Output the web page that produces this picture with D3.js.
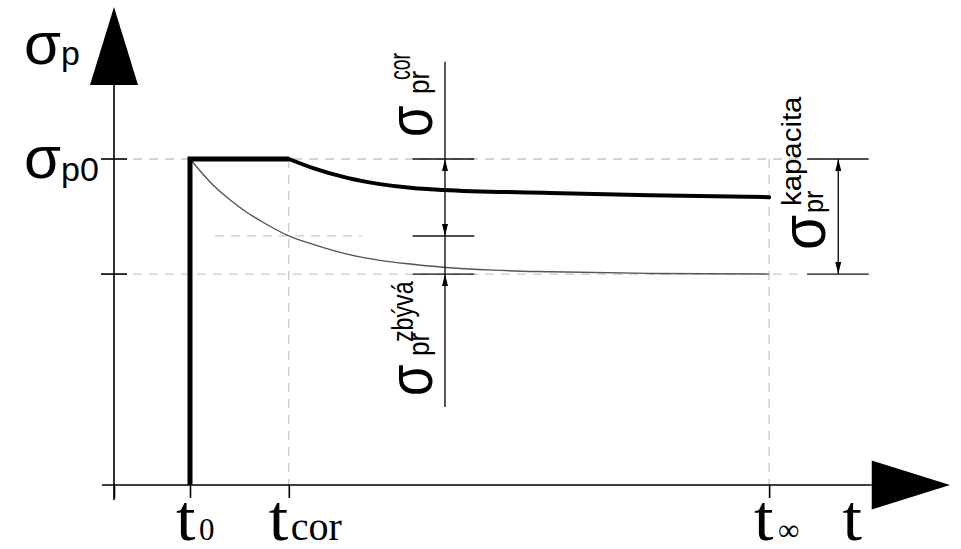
<!DOCTYPE html>
<html>
<head>
<meta charset="utf-8">
<script src="https://cdn.jsdelivr.net/npm/d3@7"></script>
<style>
  html, body { margin: 0; padding: 0; background: #fff; }
  svg { display: block; }
</style>
</head>
<body>
<svg id="chart" width="961" height="549"></svg>
<script>
// ---- data -------------------------------------------------------------
// time marks on the t axis (axis origin, t0, tcor, t∞)
const timeMarks = [0, 1.0, 2.3, 8.62];
const timeSubs  = ["0", "cor", "∞"];
// stress levels relative to σp0
const stressTicks = [1.0, 0.647];
const stressCorLevel = 0.764;          // value of the thin curve at tcor
// thick curve: σp after tcor (with corrosion)
const thickT = [2.30, 2.62, 3.07, 3.50, 3.93, 4.33, 5.74, 7.05, 8.62];
const thickS = [1.000, 0.972, 0.942, 0.923, 0.911, 0.905, 0.896, 0.889, 0.883];
// thin curve: σp from t0 without corrosion
const thinT = [1.00, 1.30, 1.53, 1.75, 1.96, 2.30, 2.62, 3.07, 3.50, 3.93, 4.33, 5.00, 5.74, 7.05, 8.62];
const thinS = [1.000, 0.921, 0.874, 0.836, 0.806, 0.764, 0.738, 0.708, 0.689, 0.677, 0.668, 0.659, 0.654, 0.649, 0.647];
// dimension lines (time position, extent, tick span)
const dimMidT = 4.355, dimMidTop = 1.298, dimMidBottom = 0.239, dimMidTicks = [3.93, 4.74];
const dimRightT = 9.53, dimRightTicks = [9.12, 9.93];

// ---- scales -----------------------------------------------------------
const x = d3.scaleLinear().domain([0, 11]).range([114, 950]);
const y = d3.scaleLinear().domain([0, 1]).range([485, 159]);

const svg = d3.select("#chart");
const SANS = "'Liberation Sans', Arial, sans-serif";
const SERIF = "'Liberation Serif', 'Times New Roman', serif";

// ---- dashed guide lines ----------------------------------------------
const guides = svg.append("g")
  .attr("stroke", "#c9c9c9").attr("stroke-width", 1.3)
  .attr("stroke-dasharray", "9,7").attr("fill", "none");
stressTicks.forEach(s => {
  guides.append("line")
    .attr("x1", x(0) + 19).attr("x2", x(dimRightTicks[0]) - 5)
    .attr("y1", y(s)).attr("y2", y(s));
});
guides.append("line")
  .attr("x1", x(1.33)).attr("x2", x(3.26))
  .attr("y1", y(stressCorLevel)).attr("y2", y(stressCorLevel));
[timeMarks[2], timeMarks[3]].forEach(t => {
  guides.append("line")
    .attr("x1", x(t)).attr("x2", x(t))
    .attr("y1", y(1)).attr("y2", y(0));
});

// ---- axes -------------------------------------------------------------
const axes = svg.append("g").attr("stroke", "#000").attr("stroke-width", 1.6);
axes.append("line").attr("x1", x(0) - 12).attr("x2", x(9.97)).attr("y1", y(0)).attr("y2", y(0));
axes.append("line").attr("x1", x(0)).attr("x2", x(0)).attr("y1", y(0) + 15).attr("y2", y(1.227));

const xAxis = d3.axisBottom(x).tickValues(timeMarks).tickSize(13).tickFormat("");
svg.append("g").attr("transform", `translate(0,${y(0)})`).call(xAxis)
  .call(g => g.select(".domain").remove())
  .call(g => g.selectAll(".tick line").attr("stroke", "#000").attr("stroke-width", 1.6));

axes.selectAll(".ytick").data(stressTicks).enter().append("line")
  .attr("x1", x(0) - 13).attr("x2", x(0) + 13)
  .attr("y1", d => y(d)).attr("y2", d => y(d));

// arrow heads of the axes
svg.append("path")
  .attr("d", `M${x(0)},${y(1.466)} L${x(0) - 24},${y(1.227)} L${x(0) + 24},${y(1.227)} Z`)
  .attr("fill", "#000");
svg.append("path")
  .attr("d", `M${x(11)},${y(0)} L${x(9.97)},${y(0) - 24.5} L${x(9.97)},${y(0) + 24.5} Z`)
  .attr("fill", "#000");

// ---- curves -----------------------------------------------------------
const smooth = d3.line().x(d => x(d[0])).y(d => y(d[1])).curve(d3.curveMonotoneX);

svg.append("path")
  .attr("d", smooth(d3.zip(thinT, thinS)))
  .attr("fill", "none").attr("stroke", "#555").attr("stroke-width", 1.4);

const step = d3.line().x(d => x(d[0])).y(d => y(d[1]));
svg.append("path")
  .attr("d", step([[timeMarks[1], 0], [timeMarks[1], 1], [timeMarks[2], 1]]))
  .attr("fill", "none").attr("stroke", "#000").attr("stroke-width", 5)
  .attr("stroke-linejoin", "miter");
svg.append("path")
  .attr("d", smooth(d3.zip(thickT, thickS)))
  .attr("fill", "none").attr("stroke", "#000").attr("stroke-width", 4)
  .attr("stroke-linecap", "round");

// ---- dimension lines --------------------------------------------------
const dim = svg.append("g").attr("stroke", "#111").attr("stroke-width", 1.4);
dim.append("line").attr("x1", x(dimMidT)).attr("x2", x(dimMidT))
  .attr("y1", y(dimMidTop)).attr("y2", y(dimMidBottom));
[1.0, stressCorLevel, 0.647].forEach(s => {
  dim.append("line").attr("x1", x(dimMidTicks[0])).attr("x2", x(dimMidTicks[1]))
    .attr("y1", y(s)).attr("y2", y(s));
});
dim.append("line").attr("x1", x(dimRightT)).attr("x2", x(dimRightT))
  .attr("y1", y(1.0)).attr("y2", y(0.647));
[1.0, 0.647].forEach(s => {
  dim.append("line").attr("x1", x(dimRightTicks[0])).attr("x2", x(dimRightTicks[1]))
    .attr("y1", y(s)).attr("y2", y(s));
});

function arrowHead(t, s, dir) {        // dir -1: points up, +1: points down
  const px = x(t), py = y(s), L = 12, W = 3;
  return `M${px},${py} L${px - W},${py - dir * L} L${px + W},${py - dir * L} Z`;
}
const heads = [
  [dimMidT, 1.0, -1], [dimMidT, stressCorLevel, 1], [dimMidT, 0.647, -1],
  [dimRightT, 1.0, -1], [dimRightT, 0.647, 1]
];
svg.append("g").selectAll("path").data(heads).enter().append("path")
  .attr("d", d => arrowHead(d[0], d[1], d[2])).attr("fill", "#000");

// ---- labels -----------------------------------------------------------
// σp and σp0 on the stress axis
const yl1 = svg.append("text").attr("x", 24).attr("y", 64).attr("font-family", SANS);
yl1.append("tspan").attr("font-size", 60).text("σ");
yl1.append("tspan").attr("font-size", 34).attr("dy", 1).text("p");

const yl2 = svg.append("text").attr("x", 24).attr("y", 178).attr("font-family", SANS);
yl2.append("tspan").attr("font-size", 60).text("σ");
yl2.append("tspan").attr("font-size", 34).attr("dy", 3).text("p0");

// time labels: a slightly widened serif "t" followed by its subscript
const tOffsets = [-14, -20, -15];
const subSizes = [31, 40, 30];
const subShift = [23, 22, 24];
function timeLabel(px, sub, subSize, shift) {
  const g = svg.append("g").attr("font-family", SERIF).attr("fill", "#000")
    .attr("transform", `translate(${px},540)`);
  g.append("text").attr("font-size", 65).attr("transform", "scale(1.08,1)").text("t");
  if (sub) g.append("text").attr("x", shift).attr("font-size", subSize).text(sub);
}
timeMarks.slice(1).forEach((t, i) => timeLabel(x(t) + tOffsets[i], timeSubs[i], subSizes[i], subShift[i]));
timeLabel(x(9.6) - 1, null);

// rotated σ labels with sub/superscripts
function sigmaLabel(ax, ay, sub, sup, o) {
  const g = svg.append("g").attr("font-family", SANS).attr("fill", "#000")
    .attr("transform", `translate(${ax},${ay}) rotate(-90)`);
  g.append("text").attr("font-size", 60)
    .attr("transform", `scale(${o.sx},1.05)`).text("σ");
  g.append("text").attr("font-size", o.subF)
    .attr("transform", `translate(${o.subX},${o.subY}) scale(${o.ss},1)`).text(sub);
  g.append("text").attr("font-size", o.supF)
    .attr("transform", `translate(${o.supX},${o.supY}) scale(${o.ps},1)`).text(sup);
}
sigmaLabel(432, 137, "pr", "cor",      { sx: 0.85, subX: 43, subY: -3, subF: 29, ss: 0.9, supX: 57, supY: -22, supF: 30, ps: 0.65 });
sigmaLabel(432, 396, "pr", "zbývá",    { sx: 0.85, subX: 40, subY: -3, subF: 29, ss: 0.9, supX: 54, supY: -19, supF: 29, ps: 0.8 });
sigmaLabel(825, 250, "pr", "kapacita", { sx: 0.95, subX: 37, subY: -2, subF: 28, ss: 0.9, supX: 44, supY: -24, supF: 28, ps: 1.05 });
</script>
</body>
</html>
